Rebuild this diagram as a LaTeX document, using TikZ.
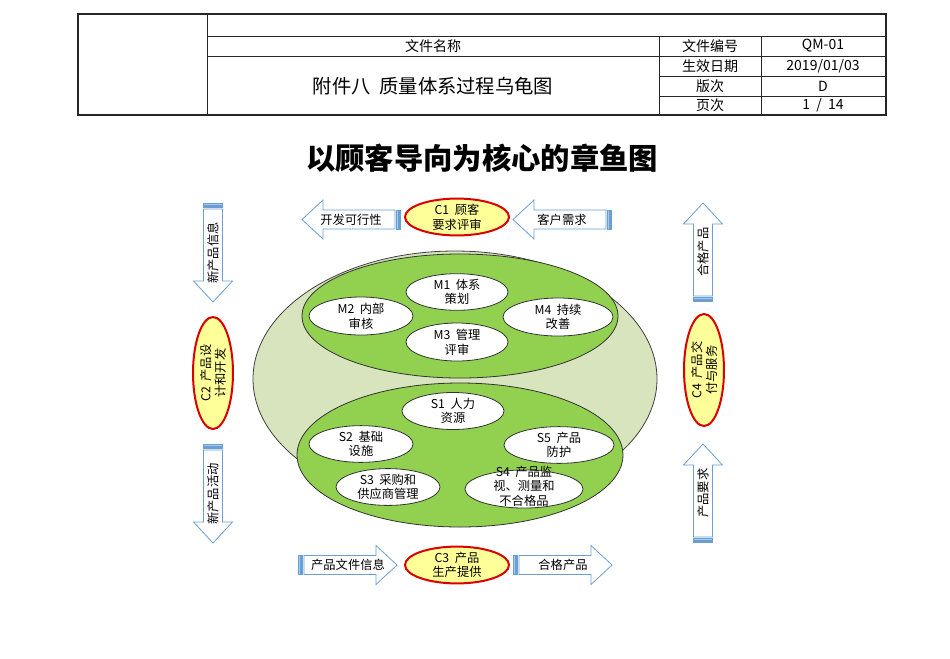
\documentclass[tikz,border=0pt]{standalone}
\usepackage{fontspec}
\setmainfont{Noto Sans CJK SC}
\usetikzlibrary{shapes.geometric}
\definecolor{pale}{HTML}{D7E4BD}
\definecolor{grn}{HTML}{92D050}
\definecolor{yel}{HTML}{FFFF99}
\definecolor{arrblue}{HTML}{6A9FD4}
\definecolor{arrfill}{HTML}{A9C8EA}
\newcommand\sarrow[5]{%
  \begin{scope}[shift={#2}, rotate=#3]
    \draw[arr] (-44,-9.5) -- (28,-9.5) -- (28,-19.5) -- (49,0) -- (28,19.5) -- (28,9.5) -- (-44,9.5) -- cycle;
    \draw[arrs] (-47,-9.5) rectangle (-45.6,9.5);
    \draw[arrs] (-49.4,-9.5) rectangle (-48.2,9.5);
  \end{scope}
  \node[base, rotate=#4] (#1) at #2 {#5};
}
\begin{document}
\begin{tikzpicture}[x=0.75pt,y=-0.75pt,
  sz/.style 2 args={minimum width=#1*0.75pt, minimum height=#2*0.75pt},
  base/.style={font=\fontsize{9.2}{11}\selectfont, align=center, inner sep=0pt},
  wel/.style={base, ellipse, draw=black!80, line width=0.6pt, fill=white},
  cel/.style={base, ellipse, draw=red!85!black, line width=1.5pt, fill=yel},
  gel/.style={ellipse, draw=black!80, line width=0.6pt, fill=grn, inner sep=0pt},
  bigel/.style={ellipse, draw=black!75, line width=0.6pt, fill=pale, inner sep=0pt},
  arr/.style={draw=arrblue, fill=white, line width=0.6pt},
  arrs/.style={draw=arrblue, fill=arrfill, line width=0.4pt},
  tb/.style={font=\fontsize{10.5}{12}\selectfont, inner sep=0pt},
  tline/.style={line width=0.6pt, draw=black!85},
]
\useasboundingbox (0,0) rectangle (950,658);
% header table
\draw[line width=1.1pt, draw=black!85] (78,14) rectangle (886,115);
\draw[tline] (207,14) -- (207,115);
\draw[tline] (207,36) -- (886,36);
\draw[tline] (207,56) -- (886,56);
\draw[tline] (659,36) -- (659,115);
\draw[tline] (761,36) -- (761,115);
\draw[tline] (659,76) -- (886,76);
\draw[tline] (659,96) -- (886,96);
\node[tb] (fname) at (433,46) {文件名称};
\node[tb, font=\fontsize{14.5}{16}\selectfont] (ftitle) at (433,86) {附件八\ \ 质量体系过程乌龟图};
\node[tb] (k1) at (710,46) {文件编号};
\node[tb] (v1) at (823,46) {QM-01};
\node[tb] (k2) at (710,66) {生效日期};
\node[tb] (v2) at (823,66) {2019/01/03};
\node[tb] (k3) at (710,86) {版次};
\node[tb] (v3) at (823,86) {D};
\node[tb] (k4) at (710,105.5) {页次};
\node[tb] (v4) at (823,105.5) {1\ \ /\ \ 14};
% title
\node[inner sep=0pt, font=\fontsize{22}{25}\selectfont\bfseries] (title) at (482,158) {以顾客导向为核心的章鱼图};
% central ellipses
\node[bigel, sz={404}{256}] (outer) at (455,379) {};
\node[gel, sz={316}{124}] (mgroup) at (460,316) {};
\node[gel, sz={326}{144}] (sgroup) at (460,455) {};
\node[wel, sz={102}{36}] (m1) at (457,292) {M1\ \ 体系\\策划};
\node[wel, sz={104}{38}] (m2) at (361,316) {M2\ \ 内部\\审核};
\node[wel, sz={110}{38}] (m4) at (558,317) {M4\ \ 持续\\改善};
\node[wel, sz={102}{38}] (m3) at (457,342) {M3\ \ 管理\\评审};
\node[wel, sz={102}{37}] (s1) at (453,411) {S1\ \ 人力\\资源};
\node[wel, sz={104}{36}] (s2) at (361,444) {S2\ \ 基础\\设施};
\node[wel, sz={110}{36}] (s5) at (559,445) {S5\ \ 产品\\防护};
\node[wel, sz={104}{36}] (s3) at (388,487) {S3\ \ 采购和\\供应商管理};
\node[wel, sz={118}{38}] (s4) at (524,489) {};
\node[base] (s4t) at (524,486) {S4\ \ 产品监\\视、测量和\\不合格品};
% customer process ellipses
\node[cel, sz={104}{34}] (c1) at (457,217) {C1\ \ 顾客\\要求评审};
\node[cel, sz={104}{34}] (c3) at (457,565) {C3\ \ 产品\\生产提供};
\node[cel, rotate=90, sz={112}{40}] (c2) at (213,373) {C2\ \ 产品设\\计和开发};
\node[cel, rotate=90, sz={112}{40}] (c4) at (704,370) {C4\ \ 产品交\\付与服务};
% arrows
\sarrow{a1}{(351,219.5)}{180}{0}{开发可行性}
\sarrow{a2}{(562,219.5)}{180}{0}{客户需求}
\sarrow{a3}{(213,253)}{-90}{90}{新产品信息}
\sarrow{a4}{(213,494)}{-90}{90}{新产品活动}
\sarrow{a5}{(703,252)}{90}{90}{合格产品}
\sarrow{a6}{(703,493)}{90}{90}{产品要求}
\sarrow{a7}{(348,565)}{0}{0}{产品文件信息}
\sarrow{a8}{(563,565)}{0}{0}{合格产品}
\end{tikzpicture}
\end{document}
